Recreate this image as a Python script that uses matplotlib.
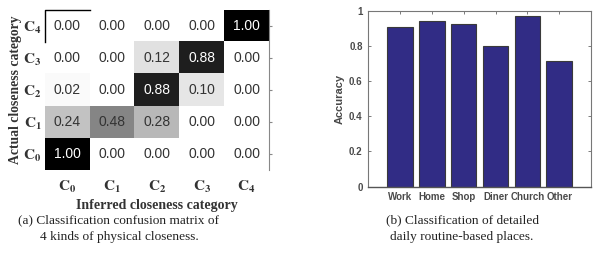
import numpy as np
import matplotlib
matplotlib.use("Agg")
import matplotlib.pyplot as plt

plt.rcParams["mathtext.fontset"] = "stix"

# (a) 혼동 행렬: 행 = 실제 C0..C4, 열 = 추론 C0..C4
classes = ["0", "1", "2", "3", "4"]
conf = np.array([
    [1.00, 0.00, 0.00, 0.00, 0.00],
    [0.24, 0.48, 0.28, 0.00, 0.00],
    [0.02, 0.00, 0.88, 0.10, 0.00],
    [0.00, 0.00, 0.12, 0.88, 0.00],
    [0.00, 0.00, 0.00, 0.00, 1.00],
])

# (b) 장소별 정확도
places = ["Work", "Home", "Shop", "Diner", "Church", "Other"]
accuracy = [0.91, 0.94, 0.925, 0.80, 0.97, 0.715]

SERIF = "Liberation Serif"
SANS = "Liberation Sans"
TXT = "#333333"

fig = plt.figure(figsize=(5.93, 2.62), dpi=100)

# ── (a) 혼동 행렬 ─────────────────────────────
ax1 = fig.add_axes([0.0759, 0.351, 0.3777, 0.611])
n = len(classes)
ax1.imshow(conf, cmap="gray_r", vmin=0, vmax=1, origin="lower",
           aspect="auto", extent=(-0.5, n - 0.5, -0.5, n - 0.5))
for i in range(n):
    for j in range(n):
        v = conf[i, j]
        ax1.text(j, i, f"{v:.2f}", ha="center", va="center", fontsize=10,
                 family=SANS, color="white" if v > 0.7 else TXT)
ax1.set_xlim(-0.5, n - 0.5)
ax1.set_ylim(-0.5, n - 0.5)
ticks = [r"$\mathbf{C}_\mathbf{%s}$" % c for c in classes]
ax1.set_xticks(range(n))
ax1.set_xticklabels(ticks, fontsize=11, color=TXT)
ax1.set_yticks(range(n))
ax1.set_yticklabels(ticks, fontsize=11, color=TXT)
for s in ["left", "top", "bottom"]:
    ax1.spines[s].set_visible(False)
ax1.spines["right"].set_color("#888888")
ax1.spines["right"].set_linewidth(0.8)
ax1.tick_params(axis="x", bottom=False, pad=3)
ax1.tick_params(axis="y", left=False, right=True, direction="out",
                length=2, color="#888888", pad=0.5)
ax1.plot([0, 0, 0.2], [0.8, 1, 1], transform=ax1.transAxes,
         color="black", lw=1, clip_on=False)
ax1.set_xlabel("Inferred closeness category", family=SERIF,
               fontweight="bold", fontsize=10, color=TXT, labelpad=3)
ax1.set_ylabel("Actual closeness category", family=SERIF,
               fontweight="bold", fontsize=9.8, color=TXT, labelpad=1)

# ── (b) 정확도 막대 ──────────────────────────
ax2 = fig.add_axes([0.621, 0.2874, 0.3756, 0.6718])
xpos = np.arange(1, len(places) + 1)
ax2.bar(xpos, accuracy, width=0.8, color="#312c85",
        edgecolor="#3a3a3a", linewidth=0.8, zorder=2)
ax2.set_xlim(0, 7)
ax2.set_ylim(0, 1)
ax2.set_xticks(xpos)
ax2.set_xticklabels(places)
ax2.set_yticks([0, 0.2, 0.4, 0.6, 0.8, 1])
ax2.set_yticklabels(["0", "0.2", "0.4", "0.6", "0.8", "1"])
for lab in ax2.get_xticklabels() + ax2.get_yticklabels():
    lab.set_family(SANS)
    lab.set_fontweight("bold")
    lab.set_fontsize(7)
    lab.set_color("#4a4a4a")
ax2.tick_params(direction="in", length=2.5, width=0.6, color="#666666",
                top=True, right=True, pad=4)
for s in ax2.spines.values():
    s.set_color("#777777")
    s.set_linewidth(0.8)
ax2.spines["bottom"].set_color("#555555")
ax2.spines["bottom"].set_linewidth(1.0)
ax2.set_ylabel("Accuracy", family=SANS, fontweight="bold", fontsize=8,
               color="#4a4a4a", labelpad=3)

# ── 캡션 ─────────────────────────────────────
cap = dict(ha="center", va="center", family=SERIF, fontsize=9.6,
           color="#222222")
fig.text(119 / 593, 1 - 220 / 262, "(a) Classification confusion matrix of", **cap)
fig.text(119 / 593, 1 - 237 / 262, "4 kinds of physical closeness.", **cap)
fig.text(462 / 593, 1 - 220 / 262, "(b) Classification of detailed", **cap)
fig.text(462 / 593, 1 - 237 / 262, "daily routine-based places.", **cap)

fig.savefig("out.png", dpi=100)
